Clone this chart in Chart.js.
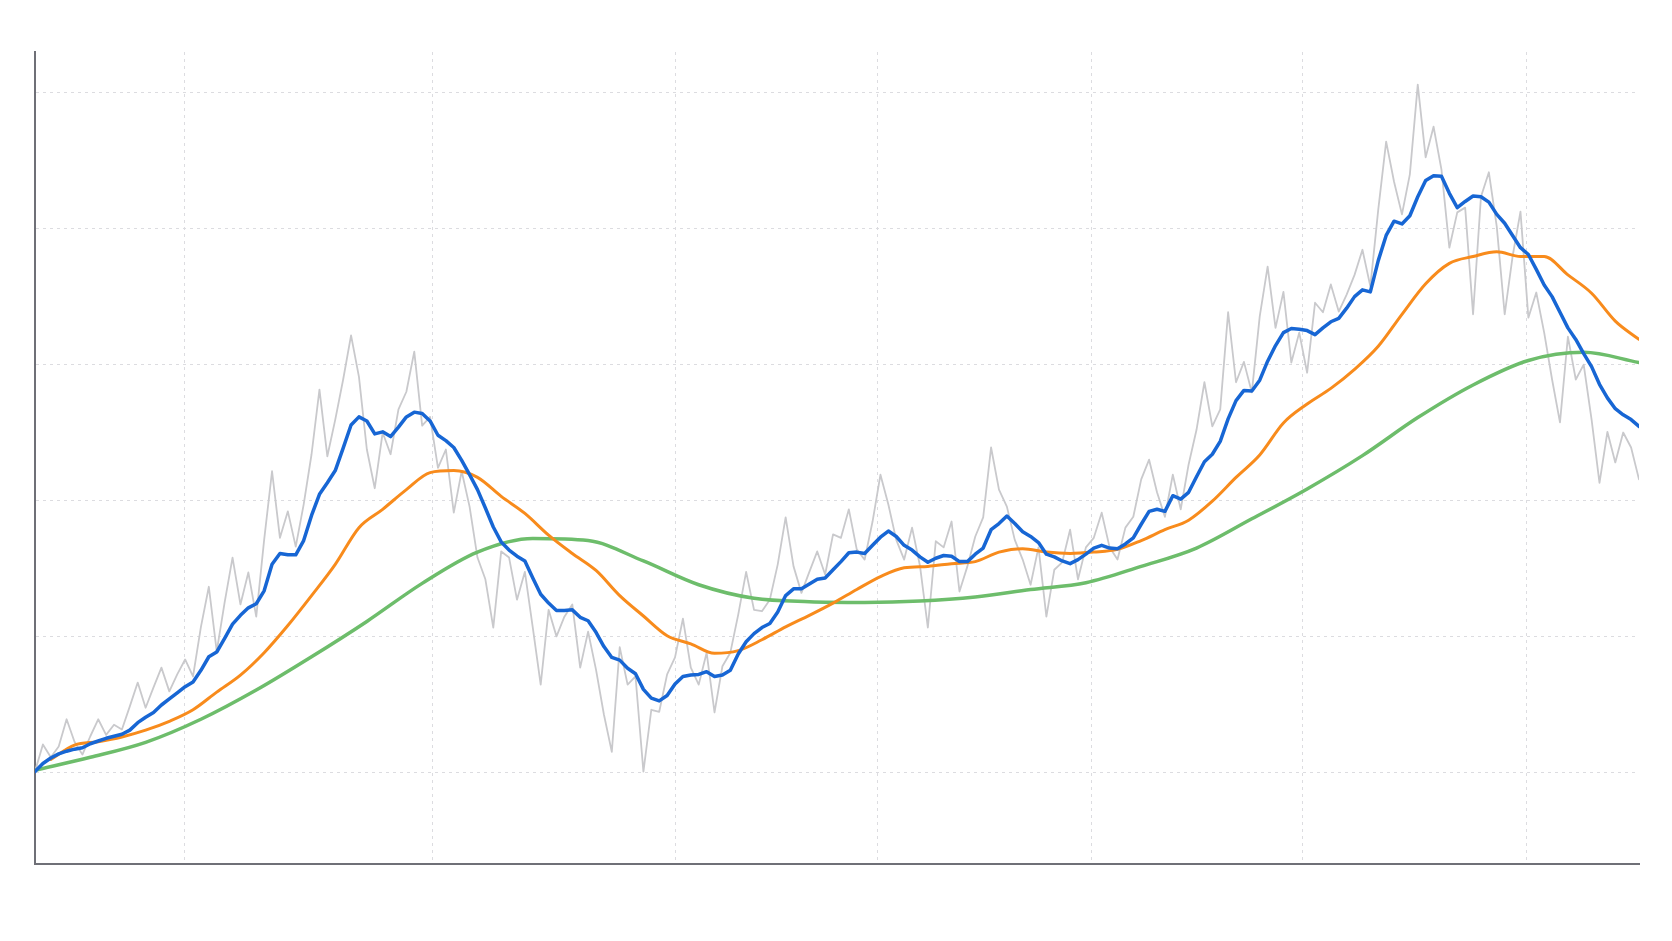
<!DOCTYPE html>
<html>
<head>
<meta charset="utf-8">
<script src="https://cdn.jsdelivr.net/npm/chart.js@4.4.1/dist/chart.umd.min.js"></script>
<style>
  html, body { margin: 0; padding: 0; background: #ffffff; }
  #wrap { width: 1672px; height: 941px; }
</style>
</head>
<body>
<div id="wrap"><canvas id="c" width="1672" height="941"></canvas></div>
<script>
// ---- data ----
const pointCount = 204;

const rawSeries = [
  100.1,104.1,102.2,103.8,107.8,104.5,102.6,105.3,107.8,105.5,
  107.0,106.3,109.7,113.2,109.5,112.5,115.4,111.9,114.4,116.6,
  114.1,121.4,127.3,117.8,125.0,131.6,124.7,129.4,122.9,134.2,
  144.3,134.5,138.4,133.2,139.4,146.8,156.3,146.5,151.9,157.8,
  164.3,158.2,147.5,141.8,150.0,146.8,153.4,156.0,161.9,151.0,
  152.3,144.8,147.5,138.2,144.3,139.1,131.6,128.4,121.3,132.5,
  131.6,125.4,129.5,121.3,112.9,123.9,120.0,122.9,124.7,115.4,
  120.7,115.1,108.5,103.0,118.4,112.9,114.1,100.1,109.2,108.9,
  114.4,116.9,122.6,115.4,112.9,117.6,108.8,115.6,117.6,123.2,
  129.5,123.9,123.7,125.4,130.6,137.5,130.3,126.4,129.5,132.5,
  129.1,135.0,134.5,138.7,132.8,131.3,136.9,143.8,139.4,134.2,
  131.3,136.0,130.4,121.3,134.0,133.1,136.9,126.6,130.3,134.7,
  137.5,147.8,141.6,139.1,134.2,131.3,127.6,133.1,122.9,129.8,
  130.9,135.7,128.4,133.1,134.5,138.2,133.1,131.3,136.0,137.6,
  143.1,146.0,141.2,137.6,143.8,138.7,145.3,150.4,157.4,150.9,
  153.4,167.7,157.4,160.4,155.9,167.1,174.4,165.4,170.7,160.3,
  164.7,158.8,169.1,167.7,171.8,167.8,170.3,173.2,176.9,171.5,
  182.8,192.8,186.9,182.1,188.0,201.2,190.5,195.0,188.7,177.2,
  182.4,183.1,167.4,184.7,188.3,180.3,167.4,175.9,182.5,166.9,
  170.6,164.7,157.8,151.5,164.1,157.8,160.0,151.9,142.6,150.1,
  145.6,150.0,147.8,143.1
];

const fastStart = 0, fastStep = 1;
const fastMA = [
  100.1,101.3,102.1,102.7,103.1,103.4,103.6,104.2,104.6,105.0,
  105.3,105.6,106.2,107.3,108.1,108.8,109.9,110.8,111.7,112.6,
  113.3,115.0,117.0,117.7,119.7,121.8,123.1,124.2,124.8,126.7,
  130.6,132.2,132.0,132.0,134.1,137.8,140.9,142.6,144.4,147.7,
  151.1,152.3,151.7,149.8,150.1,149.4,150.8,152.3,153.0,152.8,
  151.7,149.6,148.8,147.8,145.9,143.8,141.6,138.9,136.1,133.9,
  132.7,131.8,131.1,128.6,126.2,124.9,123.8,123.8,123.9,122.8,
  122.3,120.6,118.5,116.9,116.5,115.3,114.5,112.2,110.9,110.5,
  111.3,113.0,114.1,114.3,114.4,114.8,114.1,114.3,115.0,117.4,
  119.2,120.4,121.3,121.9,123.6,126.0,127.0,127.0,127.7,128.4,
  128.6,129.8,131.0,132.3,132.4,132.2,133.4,134.6,135.5,134.7,
  133.4,132.7,131.7,130.9,131.5,131.9,131.8,131.0,131.0,132.1,
  133.0,135.7,136.6,137.7,136.6,135.4,134.7,133.8,132.1,131.7,
  131.1,130.7,131.3,132.1,133.0,133.4,133.0,132.9,133.6,134.5,
  136.5,138.4,138.7,138.4,140.7,140.2,141.2,143.5,145.7,146.8,
  148.7,152.0,154.7,156.2,156.1,157.7,160.5,162.8,164.7,165.3,
  165.2,165.0,164.4,165.4,166.3,166.8,168.3,170.0,171.0,170.7,
  175.3,179.0,181.1,180.7,181.9,184.7,187.1,187.8,187.7,185.2,
  183.1,184.0,184.8,184.7,183.9,182.1,180.8,179.0,177.2,176.2,
  174.0,171.7,170.0,167.7,165.4,163.7,161.6,159.7,157.1,155.1,
  153.5,152.6,151.9,150.9
];

const midStart = 2, midStep = 3;
const midMA = [
  101.9,104.0,104.5,105.2,106.2,107.5,109.2,111.8,114.3,117.6,
  121.6,126.0,130.6,136.0,138.7,141.6,144.1,144.4,143.4,140.6,
  138.1,134.9,132.2,129.7,126.0,123.0,120.1,118.9,117.5,117.9,
  119.5,121.4,123.1,124.9,126.9,128.8,130.1,130.3,130.7,131.0,
  132.4,132.9,132.4,132.2,132.4,132.8,134.1,135.7,137.1,139.9,
  143.4,146.7,151.4,154.2,156.5,159.3,162.7,167.4,171.9,174.9,
  175.9,176.6,175.9,175.9,173.2,170.5,166.4,163.7
];

const slowStart = 0, slowStep = 7;
const slowMA = [
  100.3,102.2,104.4,107.8,112.1,117.0,122.2,127.8,132.4,134.4,
  134.1,131.1,127.6,125.6,125.1,125.0,125.2,125.8,126.9,127.9,
  130.3,133.0,137.3,141.7,146.6,152.2,157.0,160.6,161.8,160.3
];

const yTickValues = [100, 120, 140, 160, 180, 200];
const xTickValues = [18.9, 50.35, 81.0, 106.6, 133.76, 160.42, 188.73];
const yRange = [86.5, 206];

// ---- build datasets ----
function toPoints(values, start, step) {
  return values.map((v, k) => ({ x: start + k * step, y: v }));
}

const common = { pointRadius: 0, pointHoverRadius: 0, fill: false,
                 borderJoinStyle: 'round', borderCapStyle: 'round' };

const chart = new Chart(document.getElementById('c'), {
  type: 'line',
  data: {
    datasets: [
      Object.assign({ data: toPoints(fastMA, fastStart, fastStep),
        borderColor: '#1766d4', borderWidth: 3.5, tension: 0, order: 1 }, common),
      Object.assign({ data: toPoints(midMA, midStart, midStep),
        borderColor: '#f88b1c', borderWidth: 3, cubicInterpolationMode: 'monotone', order: 2 }, common),
      Object.assign({ data: toPoints(slowMA, slowStart, slowStep),
        borderColor: '#6dbd6b', borderWidth: 3.5, cubicInterpolationMode: 'monotone', order: 3 }, common),
      Object.assign({ data: toPoints(rawSeries, 0, 1),
        borderColor: '#c9c9cc', borderWidth: 1.8, tension: 0, order: 4 }, common)
    ]
  },
  options: {
    responsive: false,
    animation: false,
    devicePixelRatio: 1,
    layout: { padding: { left: 35, top: 52, right: 33, bottom: 77 } },
    plugins: { legend: { display: false }, tooltip: { enabled: false }, title: { display: false } },
    scales: {
      x: {
        type: 'linear',
        min: 0,
        max: pointCount - 1,
        ticks: { display: false },
        grid: { color: '#dcdce0', lineWidth: 1, drawTicks: false },
        border: { display: true, color: '#6f7077', width: 2, dash: [3, 4] },
        afterBuildTicks: (scale) => { scale.ticks = xTickValues.map(v => ({ value: v })); }
      },
      y: {
        type: 'linear',
        min: yRange[0],
        max: yRange[1],
        ticks: { display: false },
        grid: { color: '#dcdce0', lineWidth: 1, drawTicks: false },
        border: { display: true, color: '#6f7077', width: 2, dash: [3, 4] },
        afterBuildTicks: (scale) => { scale.ticks = yTickValues.map(v => ({ value: v })); }
      }
    }
  }
});
</script>
</body>
</html>
